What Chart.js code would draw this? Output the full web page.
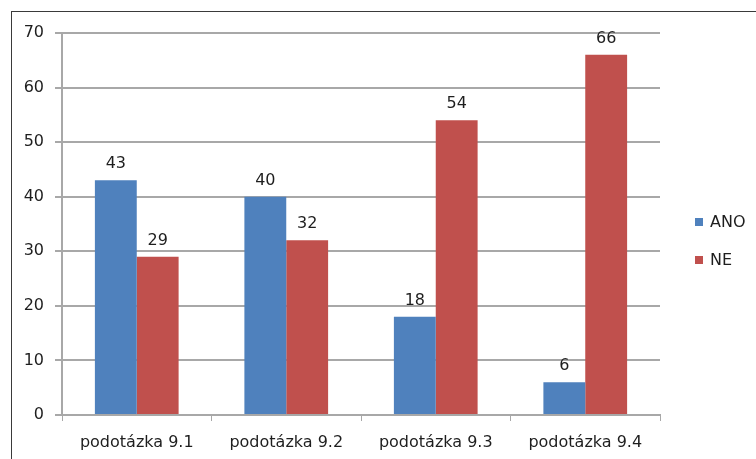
<!DOCTYPE html>
<html>
<head>
<meta charset="utf-8">
<script src="https://cdn.jsdelivr.net/npm/chart.js@4/dist/chart.umd.min.js"></script>
<style>
  html, body { margin: 0; padding: 0; background: #fff; }
  #wrap { position: relative; width: 756px; height: 459px; overflow: hidden; }
  #frame { position: absolute; left: 11px; top: 11px; width: 760px; height: 460px; border: 1px solid #3a3a3a; box-sizing: border-box; }
  canvas { position: absolute; left: 0; top: 0; }
</style>
</head>
<body>
<div id="wrap">
  <div id="frame"></div>
  <canvas id="chart" width="756" height="459"></canvas>
</div>
<script>
const categories = ["podotázka 9.1", "podotázka 9.2", "podotázka 9.3", "podotázka 9.4"];
const ano = [43, 40, 18, 6];
const ne = [29, 32, 54, 66];
const yTicks = [0, 10, 20, 30, 40, 50, 60, 70];

const textColor = "#1e1e1e";
const gridColor = "#a8a8a8";
const fontFamily = "'DejaVu Sans', Verdana, sans-serif";
const fontSize = 16;

// value labels above each bar
const valueLabels = {
  id: "valueLabels",
  afterDatasetsDraw(chart) {
    const ctx = chart.ctx;
    ctx.save();
    ctx.font = fontSize + "px " + fontFamily;
    ctx.fillStyle = textColor;
    ctx.textAlign = "center";
    ctx.textBaseline = "alphabetic";
    chart.data.datasets.forEach((ds, i) => {
      chart.getDatasetMeta(i).data.forEach((bar, j) => {
        ctx.fillText(String(ds.data[j]), bar.x, bar.y - 12);
      });
    });
    ctx.restore();
  }
};

// legend drawn at the right side
const sideLegend = {
  id: "sideLegend",
  afterDraw(chart) {
    const ctx = chart.ctx;
    ctx.save();
    ctx.font = fontSize + "px " + fontFamily;
    ctx.textBaseline = "middle";
    ctx.textAlign = "left";
    chart.data.datasets.forEach((ds, i) => {
      const y = 222 + i * 38;
      ctx.fillStyle = ds.backgroundColor;
      ctx.fillRect(695, y - 4, 8, 8);
      ctx.fillStyle = textColor;
      ctx.fillText(ds.label, 710, y + 1);
    });
    ctx.restore();
  }
};

new Chart(document.getElementById("chart"), {
  type: "bar",
  data: {
    labels: categories,
    datasets: [
      { label: "ANO", data: ano, backgroundColor: "#4f81bd" },
      { label: "NE", data: ne, backgroundColor: "#c0504d" }
    ]
  },
  options: {
    responsive: false,
    animation: false,
    devicePixelRatio: 1,
    layout: { padding: { left: 0, right: 96, top: 33, bottom: 0 } },
    plugins: {
      legend: { display: false },
      tooltip: { enabled: false }
    },
    datasets: {
      bar: { categoryPercentage: 0.56, barPercentage: 1.0 }
    },
    scales: {
      x: {
        afterFit(scale) { scale.height = 44; },
        grid: { display: true, drawOnChartArea: false, color: gridColor, tickLength: 6, offset: true },
        border: { color: gridColor, width: 2 },
        ticks: { color: textColor, font: { family: fontFamily, size: fontSize }, padding: 12, maxRotation: 0 }
      },
      y: {
        min: 0,
        max: 70,
        afterBuildTicks(scale) { scale.ticks = yTicks.map(v => ({ value: v })); },
        afterFit(scale) { scale.width = 62; },
        grid: { color: gridColor, lineWidth: 2, tickLength: 7 },
        border: { color: gridColor, width: 2 },
        ticks: { color: textColor, font: { family: fontFamily, size: fontSize }, padding: 11 }
      }
    }
  },
  plugins: [valueLabels, sideLegend]
});
</script>
</body>
</html>
